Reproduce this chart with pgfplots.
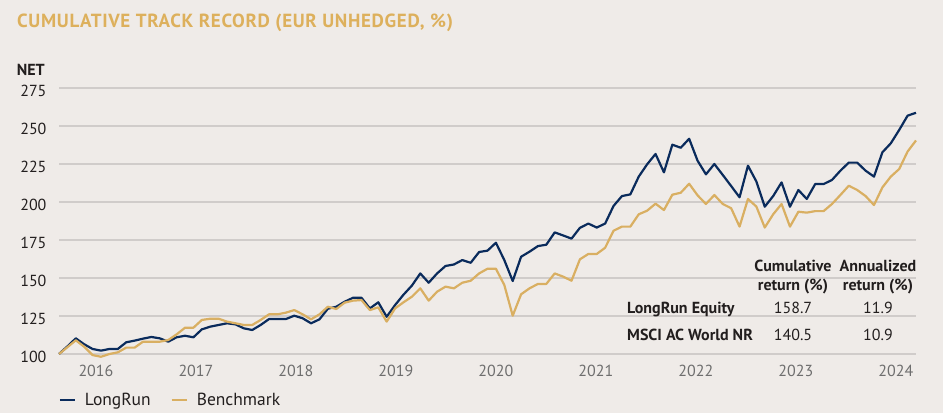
\documentclass[border=0pt]{standalone}
\usepackage{pgfplots}
\pgfplotsset{compat=1.18}
\usepackage{pgfplotstable}
\usepackage{fontspec}
\setmainfont{PT Sans}
\newfontfamily\titlefont[LetterSpace=3.5]{PT Sans}
\definecolor{navy}{RGB}{10,43,92}
\definecolor{goldl}{RGB}{217,175,98}
\definecolor{titlegold}{RGB}{221,176,92}
\definecolor{bg}{RGB}{239,235,232}
\definecolor{gridc}{RGB}{208,204,202}
\definecolor{txt}{RGB}{34,30,30}
\definecolor{yearc}{RGB}{110,110,110}
\pgfplotstableread{
i B G
0 100 100
1 105 104.5
2 110.3 109
3 106.4 104.8
4 103.3 99.3
5 102.2 98.2
6 103.3 100
7 103.3 101.1
8 107.7 104.2
9 108.8 104.2
10 110.1 108.1
11 111.2 108.1
12 110.3 108.1
13 108.1 109.2
14 111 112.9
15 112 117.3
16 111 117.3
17 116.2 122.4
18 118 123.2
19 119.1 123.2
20 120.2 121.3
21 119.5 120.2
22 116.9 119.1
23 115.8 119.1
24 119.1 122.4
25 123 126.1
26 123 126.1
27 123 127.2
28 125.2 128.9
29 123.5 126.1
30 120.2 122.8
31 122.8 126.1
32 129.8 131.1
33 131.1 129.6
34 134.4 133.8
35 137 135.1
36 137 135.5
37 130 128.9
38 134 130.7
39 124.5 121.3
40 132.2 130
41 139 134
42 145 137.7
43 153 143.2
44 146.9 135.1
45 153 141
46 157.9 144.3
47 158.9 143.2
48 161.8 146.9
49 160 148.2
50 167.1 153
51 168 156.1
52 173.2 156.1
53 161.8 145.4
54 148 125.2
55 164 139.3
56 167.3 143.2
57 171 146.1
58 171.9 146.1
59 180 153
60 178 150.9
61 175.9 148.2
62 183 162.3
63 185.8 165.8
64 183.2 165.8
65 185.8 169.9
66 197.4 181.1
67 203.9 183.8
68 205 183.8
69 216.7 191.9
70 224.8 194.3
71 231.6 198.9
72 219.5 194.7
73 237.7 204.8
74 235.7 206.1
75 241.6 212
76 227.2 204.4
77 218.2 198.7
78 225 204.6
79 217.8 198.7
80 210.5 195.9
81 203.1 183.8
82 223.9 202
83 213.5 197
84 196.9 183.2
85 203.9 191.9
86 212.9 198.7
87 196.9 183.8
88 207.9 193.6
89 202 193
90 211.8 194
91 211.8 194
92 214.5 198.7
93 220.6 204.6
94 225.9 210.7
95 225.9 207.9
96 220.6 203.9
97 216.7 198
98 232.7 209.6
99 238.6 216.7
100 247.4 221.7
101 256.8 233.2
102 258.7 240.5
}\datatable
\begin{document}
\begin{tikzpicture}[x=1pt,y=1pt]
\fill[bg] (0,0) rectangle (943,413);
\node[anchor=base west, inner sep=0, font=\titlefont\bfseries\fontsize{19}{22}\selectfont, text=titlegold] at (17,385.7) {CUMULATIVE TRACK RECORD (EUR UNHEDGED, \%)};
\node[anchor=base east, inner sep=0, font=\bfseries\fontsize{16}{19}\selectfont, text=txt] at (45,337) {NET};
\begin{axis}[
  at={(59pt,59pt)}, anchor=south west,
  scale only axis, width=857pt, height=266pt,
  xmin=0, xmax=102, ymin=100, ymax=275,
  clip=false,
  axis line style={draw=none},
  major tick length=0pt,
  ytick={100,125,...,275},
  xtick={4.4,16.3,28.2,40.1,52.0,63.9,75.8,87.7,99.6},
  xticklabels={2016,2017,2018,2019,2020,2021,2022,2023,2024},
  ymajorgrids,
  grid style={gridc, line width=1.3pt},
  /pgf/number format/assume math mode=true,
  yticklabel style={font=\fontsize{16}{19}\selectfont, text=txt, anchor=east, xshift=-9pt, yshift=-3pt},
  xticklabel style={font=\fontsize{16}{19}\selectfont, text=yearc, yshift=-8pt},
  legend style={at={(axis description cs:-0.004,-0.174)}, anchor=west, draw=none, fill=none,
    font=\fontsize{17.5}{20}\selectfont, text=txt, legend columns=2,
    /tikz/every odd column/.append style={column sep=7pt},
    /tikz/every even column/.append style={column sep=18pt}},
  legend image code/.code={\draw[#1, line width=2.2pt] (0pt,0pt) -- (15pt,0pt);},
]
\addplot[navy, line width=2.2pt, line join=round] table[x=i, y=B] {\datatable};
\addlegendentry{LongRun}
\addplot[goldl, line width=2.2pt, line join=round] table[x=i, y=G] {\datatable};
\addlegendentry{Benchmark}
\end{axis}
\begin{scope}[every node/.style={inner sep=0, text=txt, font=\fontsize{16}{19}\selectfont}]
\node[anchor=base, font=\bfseries\fontsize{16}{19}\selectfont] at (793,141.3) {Cumulative};
\node[anchor=base, font=\bfseries\fontsize{16}{19}\selectfont] at (793,123) {return (\%)};
\node[anchor=base, font=\bfseries\fontsize{16}{19}\selectfont] at (878,141.3) {Annualized};
\node[anchor=base, font=\bfseries\fontsize{16}{19}\selectfont] at (878,123) {return (\%)};
\node[anchor=base west, font=\bfseries\fontsize{16}{19}\selectfont] at (627,99.7) {LongRun Equity};
\node[anchor=base west, font=\bfseries\fontsize{16}{19}\selectfont] at (627,73) {MSCI AC World NR};
\node[anchor=base] at (793,99.7) {158.7};
\node[anchor=base] at (878,99.7) {11.9};
\node[anchor=base] at (793,73) {140.5};
\node[anchor=base] at (878,73) {10.9};
\end{scope}
\end{tikzpicture}
\end{document}
